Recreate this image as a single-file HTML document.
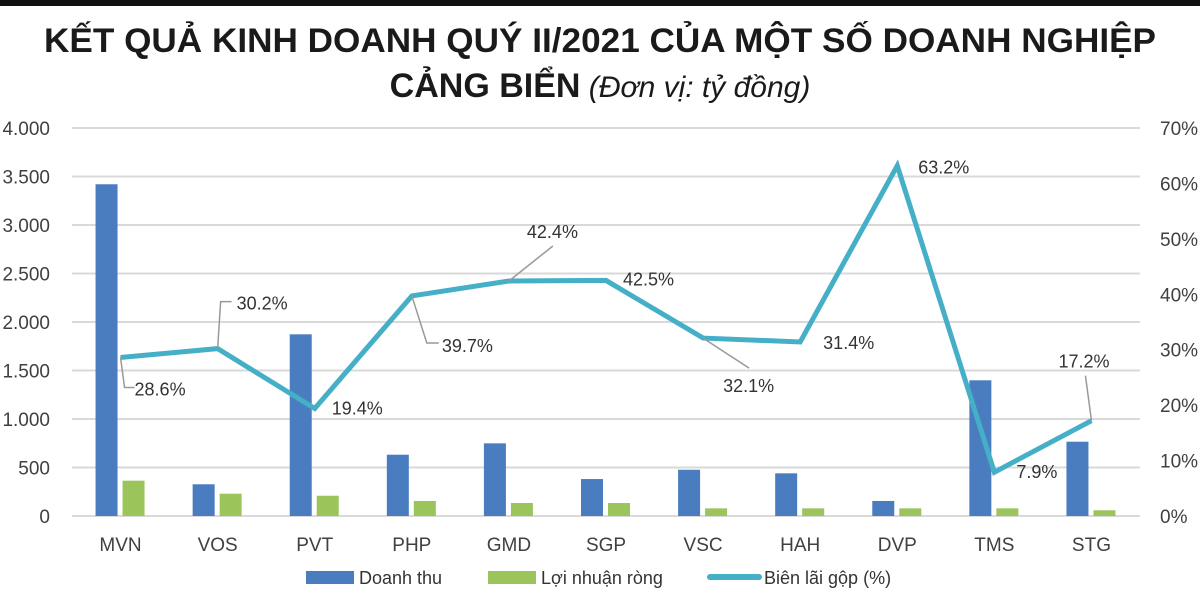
<!DOCTYPE html>
<html><head><meta charset="utf-8"><style>
body{margin:0;background:#fff;}
svg{display:block;font-family:"Liberation Sans",sans-serif;}
</style></head><body>
<svg id="chart" width="1200" height="592" viewBox="0 0 1200 592">
<rect x="0" y="0" width="1200" height="6" fill="#111"/>
<text x="600" y="52" text-anchor="middle" font-size="34" font-weight="bold" fill="#1a1a1a" textLength="1112" lengthAdjust="spacingAndGlyphs">KẾT QUẢ KINH DOANH QUÝ II/2021 CỦA MỘT SỐ DOANH NGHIỆP</text>
<text x="600" y="97" text-anchor="middle" font-size="34" fill="#1a1a1a"><tspan font-weight="bold">CẢNG BIỂN</tspan><tspan font-style="italic" font-size="30"> (Đơn vị: tỷ đồng)</tspan></text>
<g id="grid"></g><g id="bars"></g><g id="line"></g><g id="labels"></g>
<g id="legend">
<rect x="306" y="571" width="48" height="13" fill="#4a7dc0"/>
<text x="359" y="584" font-size="18" fill="#333">Doanh thu</text>
<rect x="488" y="571" width="48" height="13" fill="#9bc45a"/>
<text x="541" y="584" font-size="18" fill="#333">Lợi nhuận ròng</text>
<line x1="710" y1="577" x2="759" y2="577" stroke="#45afc7" stroke-width="6" stroke-linecap="round"/>
<text x="764" y="584" font-size="18" fill="#333">Biên lãi gộp (%)</text>
</g>
</svg>
<script>
const categories=["MVN","VOS","PVT","PHP","GMD","SGP","VSC","HAH","DVP","TMS","STG"];
const revenue=[3420,327,1873,632,749,381,477,440,155,1399,766];
const profit=[364,230,209,155,134,134,79,79,79,79,59];
const margin=[28.6,30.2,19.4,39.7,42.4,42.5,32.1,31.4,63.2,7.9,17.2];
const leftTicks=[0,500,1000,1500,2000,2500,3000,3500,4000];
const rightTicks=[0,10,20,30,40,50,60,70];
const leftTickLabels=["0","500","1.000","1.500","2.000","2.500","3.000","3.500","4.000"];
const NS="http://www.w3.org/2000/svg";
const X0=72,X1=1140,Y0=516,Y1=128;
const band=(X1-X0)/categories.length;
const xc=i=>X0+band*(i+0.5);
const yL=v=>Y0-(v/4000)*(Y0-Y1);
const yR=v=>Y0-(v/70)*(Y0-Y1);
function mk(tag,attrs,parent){const e=document.createElementNS(NS,tag);for(const k in attrs)e.setAttribute(k,attrs[k]);document.getElementById(parent).appendChild(e);return e;}
leftTicks.forEach((t,i)=>{
 const g=mk("line",{x1:X0,x2:X1,y1:yL(t),y2:yL(t),stroke:"#d9d9d9","stroke-width":2},"grid");
 
 
 const l=mk("text",{x:50,y:yL(t)+7,"text-anchor":"end","font-size":19,fill:"#404040"},"grid");
 l.textContent=leftTickLabels[i];
 
 
});
rightTicks.forEach(t=>{
 const l=mk("text",{x:1160,y:yR(t)+7,"font-size":19,fill:"#404040"},"grid");
 l.textContent=t+"%";
 
 
});
categories.forEach((c,i)=>{
 const b=mk("rect",{x:xc(i)-25,y:yL(revenue[i]),width:22,height:Y0-yL(revenue[i]),fill:"#4a7dc0"},"bars");
 
 
 const g=mk("rect",{x:xc(i)+2,y:yL(profit[i]),width:22,height:Y0-yL(profit[i]),fill:"#9bc45a"},"bars");
 
 
 const t=mk("text",{x:xc(i),y:551,"text-anchor":"middle","font-size":19,fill:"#404040"},"bars");
 t.textContent=c;
 
 
});
const pts=margin.map((m,i)=>xc(i)+","+yR(m)).join(" ");
const pl=mk("polyline",{points:pts,fill:"none",stroke:"#45afc7","stroke-width":5,"stroke-linejoin":"miter"},"line");


const lblOff=[[14,32],[19,-45],[17,0],[30,50],[18,-49],[17,-1],[20,48],[23,1],[21,2],[22,0],[-33,-59]];
const leaders=[[[0,0],[4,30],[14,30]],[[0,0],[3,-47],[14,-47]],null,[[0,0],[15,47],[27,47]],[[0,0],[44,-35]],null,[[0,0],[46,30]],null,null,null,[[0,0],[-6,-45]]];
margin.forEach((m,i)=>{
 const px=xc(i),py=yR(m);
 if(leaders[i]){
  const ld=mk("polyline",{points:leaders[i].map(p=>(px+p[0])+","+(py+p[1])).join(" "),fill:"none",stroke:"#999","stroke-width":1.5},"labels");
  
  
 }
 const t=mk("text",{x:px+lblOff[i][0],y:py+lblOff[i][1]+6,"font-size":18,fill:"#333"},"labels");
 t.textContent=m.toFixed(1)+"%";
 
 
});
</script>
</body></html>
